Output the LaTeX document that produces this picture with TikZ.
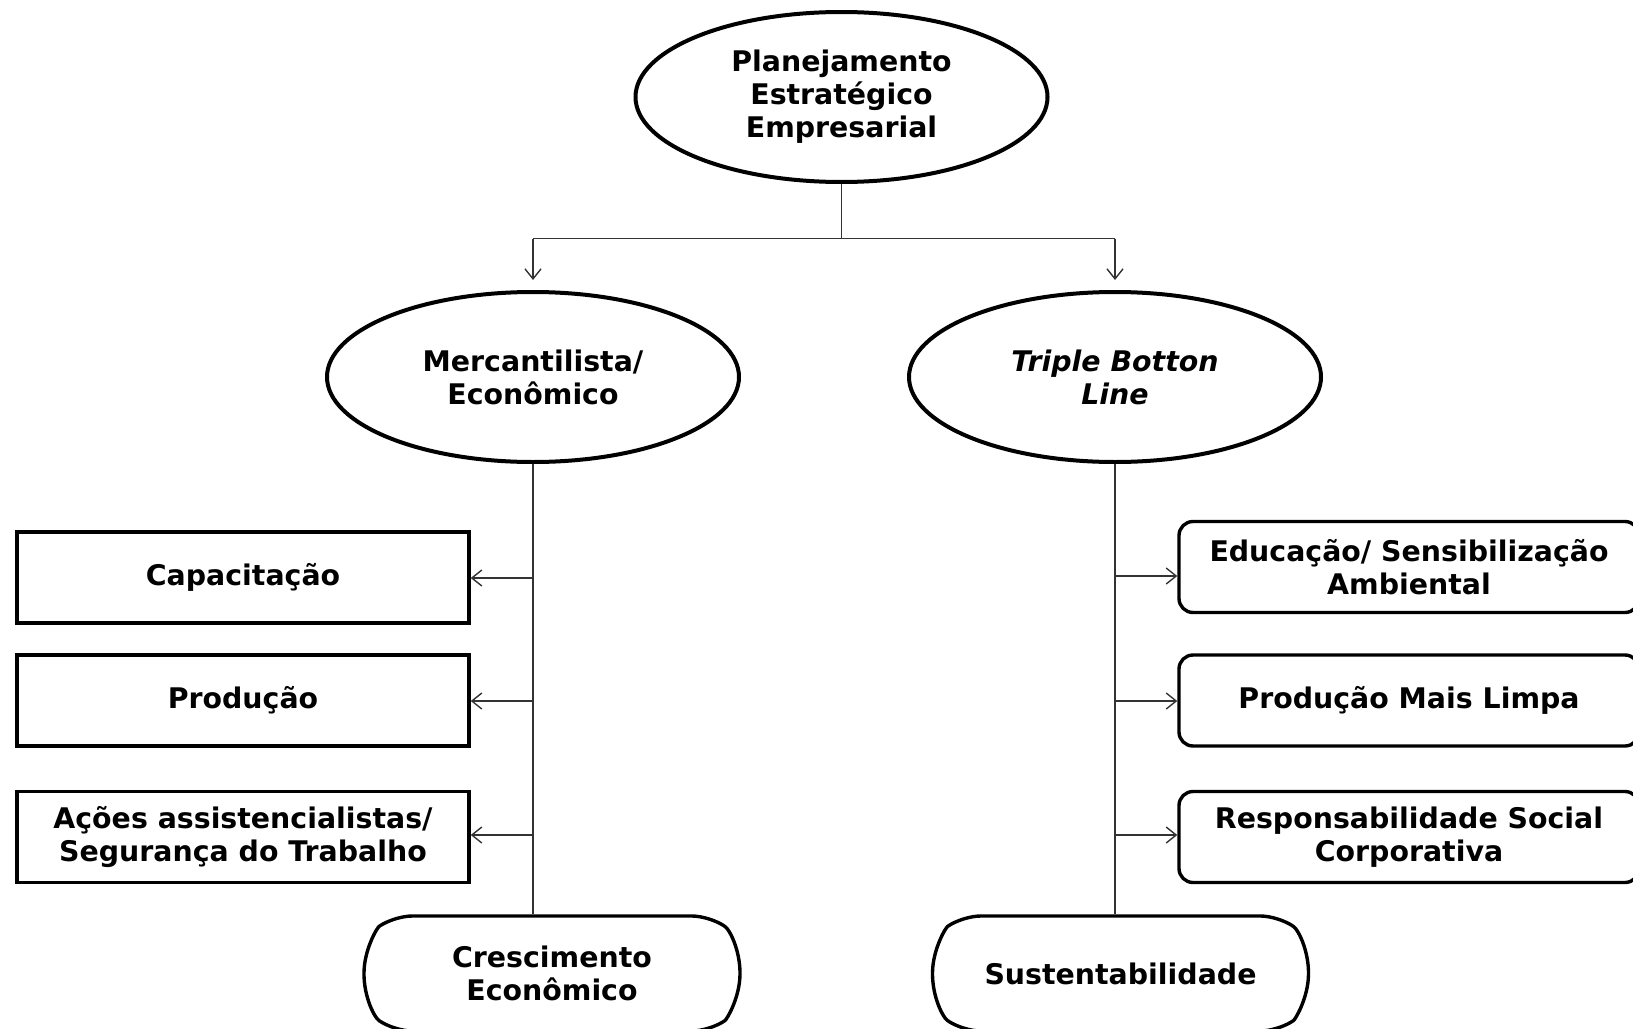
\documentclass[tikz,border=0pt]{standalone}
\usepackage{fontspec}
\setmainfont{DejaVu Sans}
\usetikzlibrary{shapes.geometric,shapes.misc,arrows.meta}
\begin{document}
\begin{tikzpicture}[x=0.5pt,y=-0.5pt,
 every node/.style={font=\fontsize{14.2}{16.5}\selectfont\bfseries, align=center, inner sep=0pt},
 oval/.style={ellipse, draw, line width=2pt, minimum width=206pt, minimum height=85pt},
 sqbox/.style={rectangle, draw, line width=1.7pt, minimum width=226pt, minimum height=45.5pt},
 rbox/.style={rectangle, rounded corners=7pt, draw, line width=1.7pt, minimum width=230pt, minimum height=45.5pt},
 endbox/.style={rounded rectangle, rounded rectangle arc length=110, rounded corners=9pt, draw, line width=1.7pt, minimum width=188pt, minimum height=57.5pt},
 conn/.style={line width=0.7pt, draw=black!80},
 arr/.style={conn, -{Straight Barb[length=5pt,width=8pt]}}
]
\clip (0,0) rectangle (1633,1028);
\fill[white] (0,0) rectangle (1633,1028);

\node[oval] (top) at (841.5,97) {Planejamento\\Estratégico\\Empresarial};
\node[oval] (merc) at (533,377) {Mercantilista/\\Econômico};
\node[oval] (tbl) at (1115,377) {\itshape Triple Botton\\\itshape Line};

\node[sqbox] (cap) at (243,577.5) {Capacitação};
\node[sqbox] (prod) at (243,700.5) {Produção};
\node[sqbox] (acoes) at (243,837) {Ações assistencialistas/\\Segurança do Trabalho};

\node[rbox] (edu) at (1409,567) {Educação/ Sensibilização\\Ambiental};
\node[rbox] (pml) at (1409,700.5) {Produção Mais Limpa};
\node[rbox] (rsc) at (1409,837) {Responsabilidade Social\\Corporativa};

\node[endbox] (cresc) at (552,973.5) {Crescimento\\Econômico};
\node[endbox] (sust) at (1120.5,973.5) {Sustentabilidade};

% top branching
\coordinate (j) at (top.south |- 0,238.5);
\coordinate (jl) at (merc.north |- 0,238.5);
\coordinate (jr) at (tbl.north |- 0,238.5);
\draw[conn] (top.south) -- (j);
\draw[conn] (jl) -- (jr);
\draw[arr] (jl) -- ([yshift=5pt]merc.north);
\draw[arr] (jr) -- ([yshift=5pt]tbl.north);

% left trunk
\draw[conn] (merc.south) -- (merc.south |- cresc.north);
\coordinate (l1) at (merc.south |- 0,578);
\coordinate (l2) at (merc.south |- 0,701);
\coordinate (l3) at (merc.south |- 0,835);
\draw[arr] (l1) -- (cap.east |- l1);
\draw[arr] (l2) -- (prod.east |- l2);
\draw[arr] (l3) -- (acoes.east |- l3);

% right trunk
\draw[conn] (tbl.south) -- (tbl.south |- sust.north);
\coordinate (r1) at (tbl.south |- 0,576);
\coordinate (r2) at (tbl.south |- 0,701);
\coordinate (r3) at (tbl.south |- 0,835);
\draw[arr] (r1) -- (edu.west |- r1);
\draw[arr] (r2) -- (pml.west |- r2);
\draw[arr] (r3) -- (rsc.west |- r3);
\end{tikzpicture}
\end{document}
